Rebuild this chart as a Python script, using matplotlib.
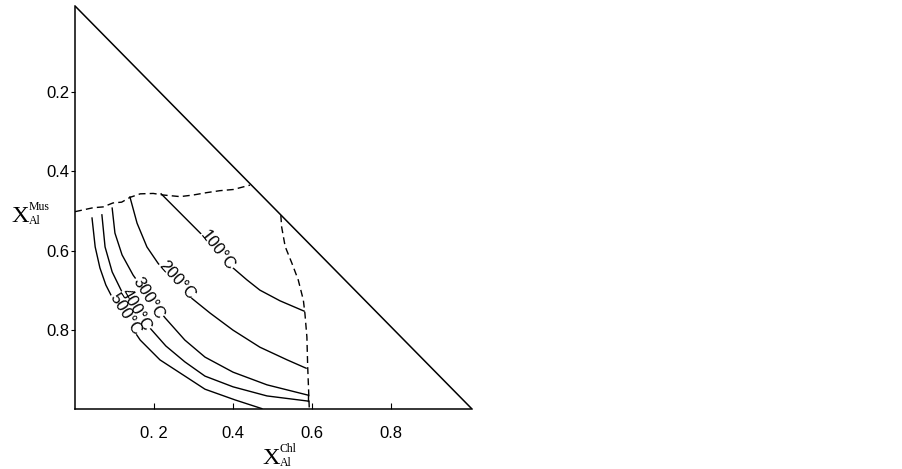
import matplotlib
matplotlib.use('Agg')
import matplotlib.pyplot as plt

plt.rcParams['font.family'] = ['Liberation Sans', 'DejaVu Sans']

# isotherms (x = X_Al^Chl, y = X_Al^Mus)
x100 = [0.218, 0.241, 0.284, 0.324, 0.362, 0.400, 0.435, 0.468, 0.519, 0.580]
y100 = [0.457, 0.480, 0.523, 0.563, 0.606, 0.644, 0.674, 0.700, 0.727, 0.753]

x200 = [0.139, 0.157, 0.182, 0.210, 0.246, 0.291, 0.342, 0.400, 0.468, 0.537, 0.585]
y200 = [0.465, 0.531, 0.591, 0.632, 0.674, 0.717, 0.758, 0.801, 0.844, 0.876, 0.897]

x300 = [0.094, 0.101, 0.119, 0.147, 0.185, 0.228, 0.278, 0.329, 0.400, 0.486, 0.590]
y300 = [0.493, 0.556, 0.611, 0.662, 0.715, 0.770, 0.826, 0.869, 0.907, 0.939, 0.965]

x400 = [0.068, 0.076, 0.094, 0.119, 0.154, 0.190, 0.230, 0.278, 0.329, 0.400, 0.486, 0.590]
y400 = [0.510, 0.591, 0.654, 0.705, 0.750, 0.796, 0.841, 0.881, 0.917, 0.944, 0.967, 0.980]

x500 = [0.043, 0.051, 0.063, 0.078, 0.101, 0.127, 0.165, 0.215, 0.286, 0.329, 0.405, 0.473]
y500 = [0.518, 0.591, 0.644, 0.687, 0.732, 0.770, 0.826, 0.876, 0.922, 0.950, 0.977, 0.999]

# dashed limits
xtop = [0.0, 0.046, 0.071, 0.096, 0.118, 0.139, 0.165, 0.198, 0.224, 0.266, 0.299, 0.333, 0.367, 0.401, 0.443]
ytop = [0.502, 0.492, 0.490, 0.480, 0.478, 0.466, 0.457, 0.456, 0.460, 0.464, 0.460, 0.454, 0.449, 0.446, 0.435]

xright = [0.521, 0.523, 0.532, 0.549, 0.565, 0.578, 0.582, 0.587, 0.589, 0.591, 0.593]
yright = [0.511, 0.540, 0.590, 0.632, 0.674, 0.725, 0.759, 0.818, 0.893, 0.944, 0.998]

# label text, position, angle
labels = ['100°C', '200°C', '300°C', '400°C', '500°C']
lab_x = [0.362, 0.258, 0.185, 0.154, 0.127]
lab_y = [0.599, 0.674, 0.720, 0.750, 0.760]
lab_rot = [-52, -48, -58, -60, -58]

fig = plt.figure(figsize=(9.03, 4.69), dpi=100)
ax = fig.add_axes([0.0831, 0.1279, 0.4396, 0.8593])

# triangle edge
ax.plot([0, 1.005], [-0.017, 1.0], color='black', lw=1.1)

for xs, ys in [(x100, y100), (x200, y200), (x300, y300), (x400, y400), (x500, y500)]:
    ax.plot(xs, ys, color='black', lw=1.0)
# 300 and 400 closed at the right end
ax.plot([x300[-1], x400[-1]], [y300[-1], y400[-1]], color='black', lw=1.0)

ax.plot(xtop, ytop, color='black', lw=1.0, linestyle=(0, (5, 3)))
ax.plot(xright, yright, color='black', lw=1.0, linestyle=(0, (5, 3)))

for t, lx, ly, r in zip(labels, lab_x, lab_y, lab_rot):
    ax.text(lx, ly, t, rotation=r, rotation_mode='anchor', ha='center', va='center',
            fontsize=12, bbox=dict(facecolor='white', edgecolor='none', pad=0.0), zorder=5)

ax.set_xlim(0, 1.005)
ax.set_ylim(1.0, -0.017)

ax.spines['top'].set_visible(False)
ax.spines['right'].set_visible(False)
ax.spines['left'].set_linewidth(1.1)
ax.spines['bottom'].set_linewidth(1.1)

ax.set_xticks([0.2, 0.4, 0.6, 0.8])
ax.set_xticklabels(['0. 2', '0.4', '0.6', '0.8'])
ax.set_yticks([0.2, 0.4, 0.6, 0.8])
ax.set_yticklabels(['0.2', '0.4', '0.6', '0.8'])
ax.tick_params(axis='x', direction='in', length=4, pad=12, labelsize=12)
ax.tick_params(axis='y', direction='out', length=3, pad=1, labelsize=12)

# axis titles: X with small super/subscripts, in a serif face
W, H = 903.0, 469.0
serif = 'Liberation Serif'
def axis_title(px, py, sup, sub):
    fig.text(px / W, 1 - py / H, 'X', family=serif, fontsize=17.5, ha='left', va='baseline')
    fig.text((px + 18) / W, 1 - (py - 12) / H, sup, family=serif, fontsize=8.5, ha='left', va='baseline')
    fig.text((px + 18) / W, 1 - (py + 2) / H, sub, family=serif, fontsize=8.5, ha='left', va='baseline')

axis_title(11, 222, 'Mus', 'Al')
axis_title(262, 464, 'Chl', 'Al')

fig.savefig('out.png', dpi=100)
